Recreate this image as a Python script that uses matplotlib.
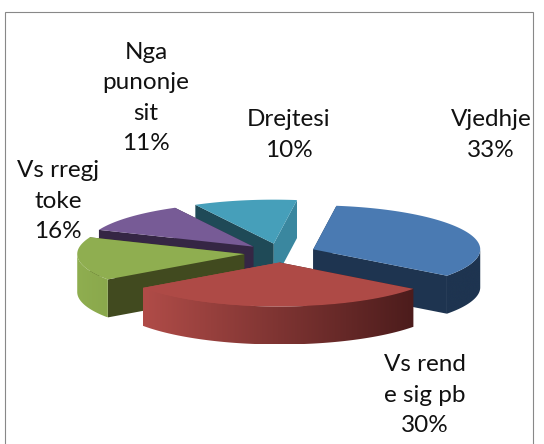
import numpy as np
import matplotlib
matplotlib.use("Agg")
import matplotlib.pyplot as plt
from matplotlib.colors import to_rgb
from matplotlib.patches import Polygon, Rectangle

labels = ["Vjedhje\n33%", "Vs rend\ne sig pb\n30%", "Vs rregj\ntoke\n16%", "Nga\npunonje\nsit\n11%", "Drejtesi\n10%"]
values = [33, 30, 16, 11, 10]
tops = ["#4a7ab2", "#ae4a46", "#8fae50", "#775b96", "#469fba"]
# wall colour at left and right end of the visible rim
walls = [("#1e3450", "#1e3450"), ("#b04c48", "#4c1c1c"), ("#8fae50", "#8aa84c"), ("#352644", "#352644"), ("#3a879f", "#3a879f")]
# cut faces: first edge, last edge
cuts = [("#1e3450", "#1e3450"), ("#4c1c1c", "#b04c48"), ("#414a1f", "#414a1f"), ("#352644", "#352644"), ("#1f4a57", "#3a879f")]

label_xy = [(491, 135), (425, 395), (58, 201), (146, 98), (289, 135)]
START = 8.0
RX, RY, DEPTH = 167, 44, 38
CX, CY = 280, 253
EXPLODE = 36


def rim(cx, cy, a0, a1, n=80):
    t = np.radians(np.linspace(a0, a1, n))
    return cx + RX * np.sin(t), cy - RY * np.cos(t)


fig = plt.figure(figsize=(5.44, 4.44), dpi=100)
ax = fig.add_axes([0, 0, 1, 1])
ax.axis("off")
ax.add_patch(Rectangle((5, 12), 528, 440, fc="white", ec="#888888", lw=0.8))

angles = START + np.concatenate([[0], np.cumsum(values)]) * 3.6
slices = []
for i in range(len(values)):
    a0, a1 = angles[i], angles[i + 1]
    mid = np.radians((a0 + a1) / 2)
    cx = CX + EXPLODE * np.sin(mid)
    cy = CY - EXPLODE * RY / RX * np.cos(mid)
    slices.append((cy, i, a0, a1, cx))

# back slices first
for cy, i, a0, a1, cx in sorted(slices):
    x, y = rim(cx, cy, a0, a1)
    for a, c in zip((a0, a1), cuts[i]):
        ex, ey = rim(cx, cy, a, a, 1)
        ax.add_patch(Polygon([(cx, cy), (ex[0], ey[0]), (ex[0], ey[0] + DEPTH), (cx, cy + DEPTH)],
                             fc=c, ec="none", zorder=cy))
    # outer wall, only the front half shows; gradient image clipped to its outline
    lo, hi = max(a0, 90), min(a1, 270)
    if hi > lo:
        wx, wy = rim(cx, cy, lo, hi, 120)
        outline = Polygon(np.r_[np.c_[wx, wy], np.c_[wx[::-1], wy[::-1] + DEPTH]],
                          fc="none", ec="none", transform=ax.transData)
        ax.add_patch(outline)
        left, right = np.array(to_rgb(walls[i][0])), np.array(to_rgb(walls[i][1]))
        grad = np.linspace(0, 1, 256)[None, :, None]
        im = ax.imshow(left + (right - left) * grad, aspect="auto", zorder=cy,
                       extent=(wx.min(), wx.max(), wy.max() + DEPTH, wy.min()))
        im.set_clip_path(outline)
    ax.add_patch(Polygon(np.r_[[(cx, cy)], np.c_[x, y]], fc=tops[i], ec="none", zorder=cy + 0.1))

for (lx, ly), t in zip(label_xy, labels):
    ax.text(lx, ly, t, ha="center", va="center", fontsize=17.5, family="Lato",
            color="#111111", linespacing=1.55, zorder=1000)

ax.set_xlim(0, 544)
ax.set_ylim(444, 0)
fig.savefig("out.png", dpi=100)
